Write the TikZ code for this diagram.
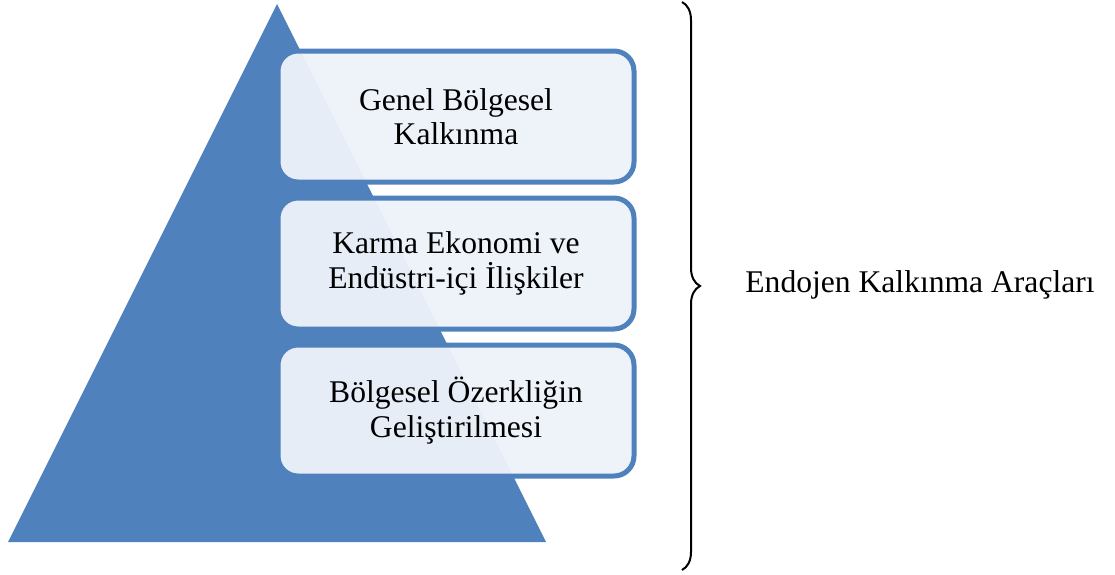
\documentclass[tikz,border=0pt]{standalone}
\usepackage{fontspec}
\setmainfont{Liberation Serif}
\usetikzlibrary{positioning,decorations.pathreplacing}
\definecolor{pyrblue}{HTML}{4F81BD}
\definecolor{boxfill}{HTML}{EDF2F9}
\tikzset{
  levelbox/.style={draw=pyrblue, line width=2.5pt, rounded corners=10pt,
    fill=boxfill, fill opacity=0.96, text opacity=1,
    minimum width=178pt, minimum height=65.5pt, align=center,
    font=\fontsize{15.8}{17.2}\selectfont},
}
\begin{document}
\begin{tikzpicture}[x=0.5pt,y=-0.5pt]
		\useasboundingbox (0,0) rectangle (1115,574);
		% pyramid
		\fill[pyrblue] (8,542) -- (277,4) -- (546,542) -- cycle;
		% levels
		\node[levelbox] (genel) at (456,116.5) {Genel Bölgesel\\Kalkınma};
		\node[levelbox, below=5.5pt of genel] (karma) {Karma Ekonomi ve\\Endüstri-içi İlişkiler};
		\node[levelbox, below=5.5pt of karma] (ozerk) {Bölgesel Özerkliğin\\Geliştirilmesi};
		% brace
		\coordinate (btop) at (682,2);
		\coordinate (bbot) at (682,570);
		\draw[line width=1pt, decorate, decoration={brace, amplitude=9pt}] (btop) -- (bbot);
		\node[anchor=base west, inner sep=0pt, font=\fontsize{15.8}{17.2}\selectfont] (arac) at (745,292) {Endojen Kalkınma Araçları};
	\end{tikzpicture}
\end{document}
